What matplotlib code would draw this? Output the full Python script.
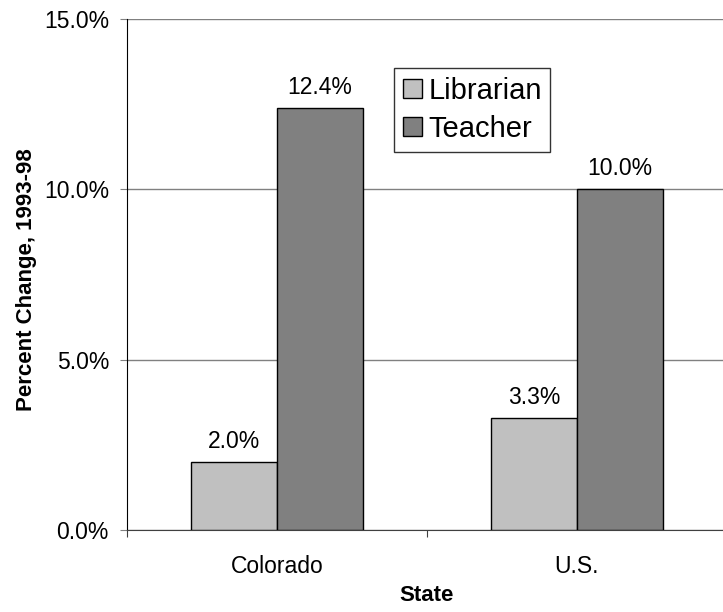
import numpy as np
import matplotlib.pyplot as plt
from matplotlib.ticker import FuncFormatter

plt.rcParams['font.family'] = ['Liberation Sans', 'DejaVu Sans']

states = ['Colorado', 'U.S.']
librarian = [2.0, 3.3]
teacher = [12.4, 10.0]
series_names = ['Librarian', 'Teacher']

fig = plt.figure(figsize=(7.23, 6.12), dpi=100)
ax = fig.add_axes([0.1757, 0.134, 0.8298, 0.835])

x = np.arange(len(states)) + 0.5
w = 0.287
b1 = ax.bar(x - w/2, librarian, w, color='#C0C0C0', edgecolor='black', linewidth=1, label=series_names[0], zorder=3)
b2 = ax.bar(x + w/2, teacher, w, color='#808080', edgecolor='black', linewidth=1, label=series_names[1], zorder=3)

for bars in (b1, b2):
    for r in bars:
        ax.annotate('%.1f%%' % r.get_height(), (r.get_x() + r.get_width()/2, r.get_height()),
                    xytext=(0, 10), textcoords='offset points', ha='center', va='baseline', fontsize=16.5)

ax.set_ylim(0, 15)
ax.set_xlim(0, 2)
ax.set_yticks([0, 5, 10, 15])
ax.yaxis.set_major_formatter(FuncFormatter(lambda v, p: '%.1f%%' % v))
ax.yaxis.grid(True, color='#808080', linewidth=1, zorder=0)
ax.set_xticks([0, 1, 2])
ax.set_xticklabels([])
ax.set_xticks(x, minor=True)
ax.set_xticklabels(states, minor=True)
ax.tick_params(axis='x', which='minor', length=0, pad=18, labelsize=16.5)
ax.tick_params(axis='x', which='major', direction='out', length=5, color='#404040')
ax.tick_params(axis='y', direction='out', length=5, labelsize=16.5, pad=8, color='#808080')

for s in ['top', 'right']:
    ax.spines[s].set_visible(False)
ax.spines['left'].set_color('black')
ax.spines['bottom'].set_color('#404040')

ax.set_xlabel('State', fontweight='bold', fontsize=16)
ax.set_ylabel('Percent Change, 1993-98', fontweight='bold', fontsize=16)
ax.xaxis.set_label_coords(0.5, -0.108)
ax.yaxis.set_label_coords(-0.15, 0.489)

leg = ax.legend(loc='upper left', bbox_to_anchor=(0.445, 0.904), borderaxespad=0, fontsize=21, frameon=True,
                fancybox=False, edgecolor='black', handlelength=0.65, handleheight=0.65,
                handletextpad=0.22, borderpad=0.3, labelspacing=0.35)
leg.get_frame().set_linewidth(1)

fig.savefig('out.png', dpi=100)
